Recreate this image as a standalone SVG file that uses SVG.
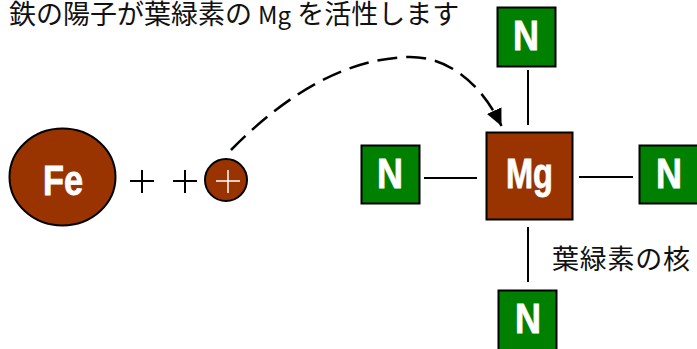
<svg xmlns="http://www.w3.org/2000/svg" width="697" height="349" viewBox="0 0 697 349">
<style>
.n{fill:#008000;stroke:#000;stroke-width:2}
.b{fill:#993300;stroke:#000;stroke-width:2}
.l{fill:#fff;font-family:"Liberation Sans",Arial,sans-serif;font-weight:bold;text-anchor:middle;stroke:#fff;stroke-width:.8;font-size:43px}
.c{stroke:#000;stroke-width:2;fill:none}
.t{fill:#111;font-family:"Noto Sans CJK JP","Noto Sans",sans-serif;font-size:27px}
</style>
<defs><marker id="a" markerUnits="userSpaceOnUse" markerWidth="20" markerHeight="20" refX="17" refY="8" orient="auto"><path d="M0 0L17 8L0 16Z" fill="#000"/></marker></defs>
<text class="t" x="9" y="23.500">鉄の陽子が葉緑素の <tspan font-size="24">Mg</tspan> を活性します</text>
<g id="fe"><ellipse class="b" cx="62.500" cy="177" rx="53" ry="48.500"/><text class="l" x="63" y="195" textLength="40" lengthAdjust="spacingAndGlyphs">Fe</text></g>
<g id="plus-signs"><path class="c" d="M130 181H154M142 170V193M173 181H197M185 170V193"/></g>
<g id="ion"><circle class="b" cx="226" cy="180" r="21"/><path d="M216 181H240M228 170V193" stroke="#fff" stroke-width="1.500" fill="none"/></g>
<g id="mg"><rect class="b" x="486.500" y="132.500" width="86" height="87"/><text class="l" x="529.500" y="188" textLength="47" lengthAdjust="spacingAndGlyphs">Mg</text></g>
<g id="n-top"><rect class="n" x="497.500" y="7.500" width="58" height="59"/><text class="l" x="526" y="50" textLength="26" lengthAdjust="spacingAndGlyphs">N</text></g>
<g id="n-left"><rect class="n" x="361.500" y="145.500" width="58" height="58"/><text class="l" x="390" y="188" textLength="26" lengthAdjust="spacingAndGlyphs">N</text></g>
<g id="n-right"><rect class="n" x="639.500" y="145.500" width="60" height="58"/><text class="l" x="669" y="188" textLength="26" lengthAdjust="spacingAndGlyphs">N</text></g>
<g id="n-bottom"><rect class="n" x="498.500" y="290.500" width="58" height="60"/><text class="l" x="528" y="333" textLength="26" lengthAdjust="spacingAndGlyphs">N</text></g>
<g id="connectors">
<path class="c" d="M528 70V125M424 178H477M579 177H633M528 227V282"/>
<path class="c" style="stroke-width:2.500" stroke-dasharray="20 9" d="M231 150C290 90 350 58 410 57C450 57 482 85 501.500 126" marker-end="url(#a)"/>
</g>
<text class="t" x="552" y="269" textLength="138">葉緑素の核</text>
</svg>
